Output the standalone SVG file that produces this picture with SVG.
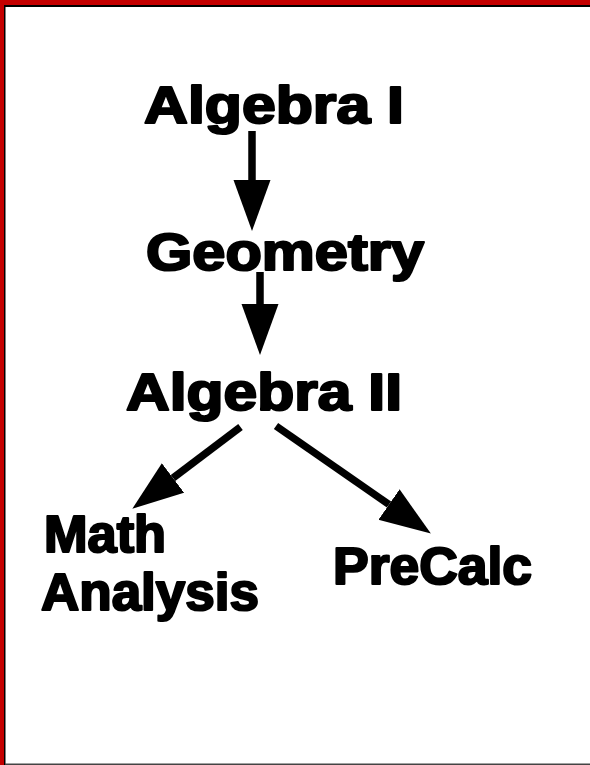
<svg xmlns="http://www.w3.org/2000/svg" width="590" height="765" viewBox="0 0 590 765">
<style>
.lbl{font-family:"Liberation Sans",Arial,sans-serif;font-weight:bold;font-size:51px;fill:#000;stroke:#000;stroke-width:2.2;stroke-linejoin:round}
.edge{stroke:#000;stroke-width:7.5;fill:none;marker-end:url(#ah)}
</style>
<defs>
<marker id="ah" markerUnits="userSpaceOnUse" markerWidth="52" markerHeight="38" refX="0" refY="18.5" orient="auto" viewBox="0 0 52 38">
<path d="M0,0 L51,18.5 L0,37 Z" fill="#000"/>
</marker>
</defs>
<rect x="0" y="0" width="590" height="765" fill="#fff"/>
<g id="frame">
<rect x="0" y="0" width="590" height="5" fill="#c40000"/>
<rect x="0" y="0" width="4" height="765" fill="#c40000"/>
<rect x="4" y="5" width="586" height="2" fill="#000"/>
<rect x="4" y="5" width="1.5" height="760" fill="#000"/>
<rect x="5" y="763.5" width="585" height="1.5" fill="#444"/>
</g>
<g id="connectors">
<line class="edge" x1="252" y1="131" x2="252" y2="180"/>
<line class="edge" x1="260" y1="272" x2="260" y2="304"/>
<line class="edge" x1="240.5" y1="427" x2="173" y2="478"/>
<line class="edge" x1="276" y1="426" x2="389" y2="504.5"/>
</g>
<g id="algebra1"><text class="lbl" x="144" y="123" textLength="260" lengthAdjust="spacingAndGlyphs">Algebra I</text></g>
<g id="geometry"><text class="lbl" x="146" y="270" textLength="278" lengthAdjust="spacingAndGlyphs">Geometry</text></g>
<g id="algebra2"><text class="lbl" x="126" y="410" textLength="276" lengthAdjust="spacingAndGlyphs">Algebra II</text></g>
<g id="mathanalysis">
<text class="lbl" x="44" y="552" textLength="122" lengthAdjust="spacingAndGlyphs">Math</text>
<text class="lbl" x="41" y="610" textLength="218" lengthAdjust="spacingAndGlyphs">Analysis</text>
</g>
<g id="precalc"><text class="lbl" x="333" y="584" textLength="199" lengthAdjust="spacingAndGlyphs">PreCalc</text></g>
</svg>
